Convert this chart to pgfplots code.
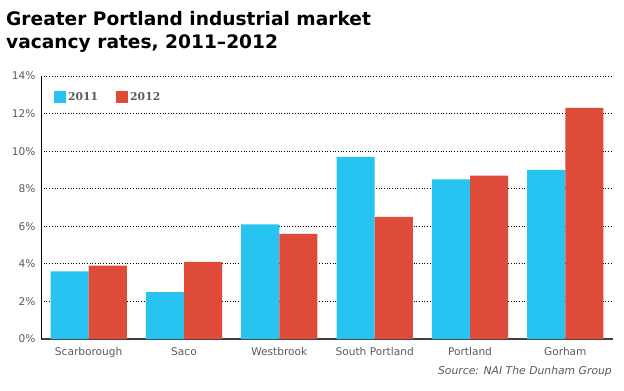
\documentclass[border=0pt]{standalone}
\usepackage{pgfplots}
\pgfplotsset{compat=1.18}
\usepackage{fontspec}
\setmainfont{DejaVu Sans}
\newfontfamily\legfont{DejaVu Serif}
\definecolor{c11}{HTML}{27C3F1}
\definecolor{c12}{HTML}{DE4B39}
\definecolor{txt}{HTML}{5A5A5A}
\begin{document}
\begin{tikzpicture}[x=1bp,y=1bp]
\path[use as bounding box] (0,0) rectangle (624,390);
\node[anchor=north west, align=left, inner sep=0pt, font=\fontsize{18.6bp}{23.5bp}\selectfont\bfseries] at (6,379) {Greater Portland industrial market\\vacancy rates, 2011--2012};
\begin{axis}[
  at={(41bp,51bp)}, anchor=south west,
  width=572bp, height=263bp, scale only axis,
  xmin=-0.5, xmax=5.5, ymin=0, ymax=14,
  ytick={0,2,...,14},
  xtick={0,...,5},
  xticklabels={Scarborough,Saco,Westbrook,South Portland,Portland,Gorham},
  yticklabel={\pgfmathprintnumber{\tick}\%},
  /pgf/number format/assume math mode=true,
  ticklabel style={font=\fontsize{10.6bp}{12bp}\selectfont, text=txt},
  yticklabel style={xshift=-2bp},
  xticklabel style={yshift=-5bp},
  major tick length=0pt,
  axis x line*=bottom, axis y line*=left,
  x axis line style={draw=black!75, line width=1.6bp},
  y axis line style={draw=black, line width=0.8bp},
  ymajorgrids,
  grid style={black, line width=0.9bp, dash pattern=on 0.9bp off 1.8bp},
  ybar, bar width=0.4,
  legend columns=2,
  legend style={at={(10bp,251bp)}, anchor=north west, draw=none, fill=none,
     font=\legfont\bfseries\fontsize{10.8bp}{12bp}\selectfont, text=txt,
     /tikz/every even column/.append style={column sep=16bp}},
  legend image code/.code={\fill[#1] (0bp,-6bp) rectangle (12bp,6bp);},
]
\addplot[fill=c11, draw=none, bar shift=-0.2] coordinates {(0,3.6) (1,2.5) (2,6.1) (3,9.7) (4,8.5) (5,9.0)};
\addplot[fill=c12, draw=none, bar shift=0.2] coordinates {(0,3.9) (1,4.1) (2,5.6) (3,6.5) (4,8.7) (5,12.3)};
\legend{2011,2012}
\end{axis}
\node[anchor=east, inner sep=0pt, font=\fontsize{10.8bp}{12bp}\selectfont\itshape, text=txt] at (612,18) {Source: NAI The Dunham Group};
\end{tikzpicture}
\end{document}
